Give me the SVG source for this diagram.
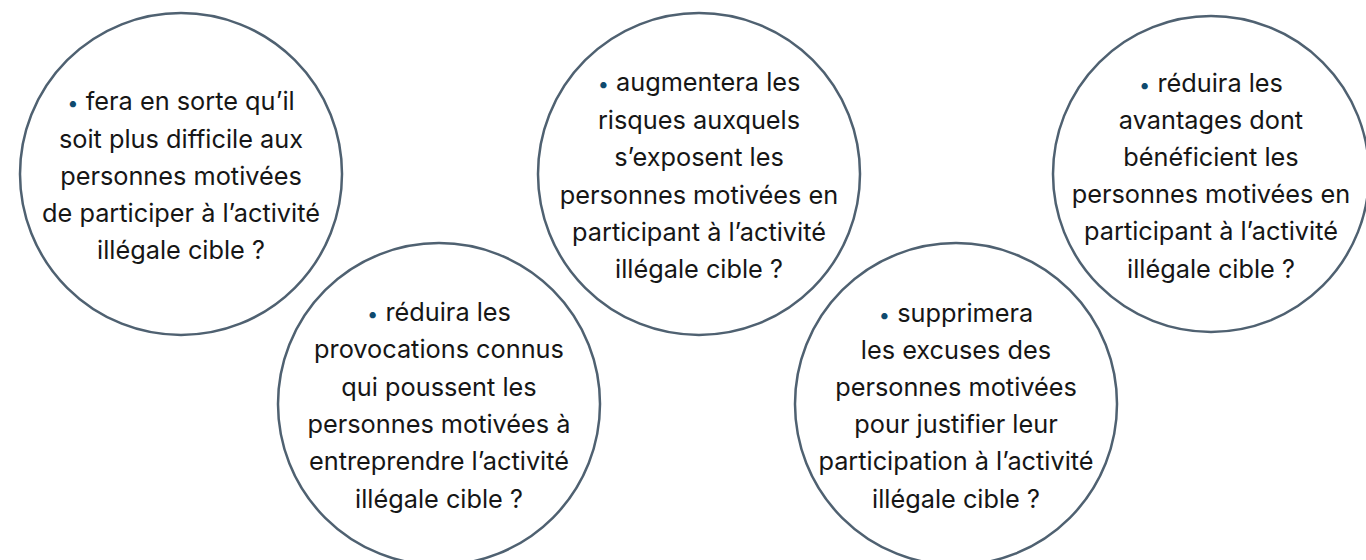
<svg xmlns="http://www.w3.org/2000/svg" width="1366" height="560" viewBox="0 0 1366 560">
<style>
.c{fill:#ffffff;stroke:#4f6171;stroke-width:2.5}
.t{font-family:Inter,"Noto Sans","Liberation Sans",sans-serif;font-size:25.3px;fill:#161616;text-anchor:middle}
.b{fill:#0f4a6e;font-size:20px}
</style>
<rect width="1366" height="560" fill="#ffffff"/>
<g id="node1">
<circle class="c" cx="181" cy="174" r="161"/>
<text class="t"><tspan x="181" y="110"><tspan class="b">•</tspan> fera en sorte qu’il</tspan><tspan x="181" y="148">soit plus difficile aux</tspan><tspan x="181" y="185">personnes motivées</tspan><tspan x="181" y="222">de participer à l’activité</tspan><tspan x="181" y="259">illégale cible ?</tspan></text>
</g>
<g id="node3">
<circle class="c" cx="699" cy="174" r="161"/>
<text class="t"><tspan x="699" y="91"><tspan class="b">•</tspan> augmentera les</tspan><tspan x="699" y="129">risques auxquels</tspan><tspan x="699" y="166">s’exposent les</tspan><tspan x="699" y="204">personnes motivées en</tspan><tspan x="699" y="241">participant à l’activité</tspan><tspan x="699" y="278">illégale cible ?</tspan></text>
</g>
<g id="node5">
<circle class="c" cx="1211" cy="174" r="158"/>
<text class="t"><tspan x="1211" y="92"><tspan class="b">•</tspan> réduira les</tspan><tspan x="1211" y="129">avantages dont</tspan><tspan x="1211" y="166">bénéficient les</tspan><tspan x="1211" y="203">personnes motivées en</tspan><tspan x="1211" y="240">participant à l’activité</tspan><tspan x="1211" y="278">illégale cible ?</tspan></text>
</g>
<g id="node2">
<circle class="c" cx="439" cy="404" r="161"/>
<text class="t"><tspan x="439" y="321"><tspan class="b">•</tspan> réduira les</tspan><tspan x="439" y="358">provocations connus</tspan><tspan x="439" y="396">qui poussent les</tspan><tspan x="439" y="433">personnes motivées à</tspan><tspan x="439" y="470">entreprendre l’activité</tspan><tspan x="439" y="508">illégale cible ?</tspan></text>
</g>
<g id="node4">
<circle class="c" cx="956" cy="404" r="161"/>
<text class="t"><tspan x="956" y="322"><tspan class="b">•</tspan> supprimera</tspan><tspan x="956" y="359">les excuses des</tspan><tspan x="956" y="396">personnes motivées</tspan><tspan x="956" y="433">pour justifier leur</tspan><tspan x="956" y="470">participation à l’activité</tspan><tspan x="956" y="508">illégale cible ?</tspan></text>
</g>
<g id="connectors"></g>
</svg>
